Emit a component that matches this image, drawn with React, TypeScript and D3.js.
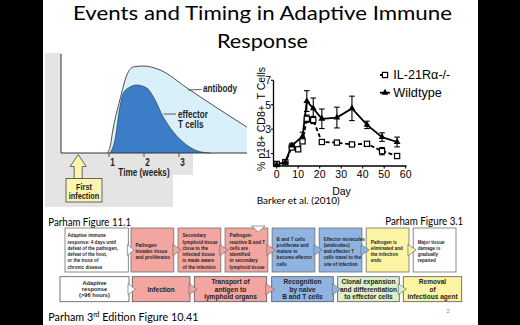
import React from 'react';
import * as d3 from 'd3';

// ---------- DATA ----------
const titleLines = ['Events and Timing in Adaptive Immune', 'Response'];

// Left figure (Parham 11.1): weeks vs relative level
const abWeeks = [0.94, 1.03, 1.11, 1.31, 1.51, 1.69, 1.97, 2.46, 3.23, 4.09, 4.94];
const abLevel = [0, 6, 23, 53, 78, 86, 87, 83, 65, 45, 26];
const efWeeks = [1.03, 1.17, 1.31, 1.41, 1.6, 1.79, 2.08, 2.27, 2.55, 2.84, 3.22, 3.6, 3.89];
const efLevel = [0, 13, 46, 60, 66, 68, 65, 56, 36, 21, 8, 1.3, 0];
const timeTicks = [1, 2, 3];

// Right figure (Barker et al. 2010)
const wtDays = [0, 4, 7, 12, 14, 17, 21, 28, 35, 42, 49, 56];
const wtVals = [0.1, 0.3, 1.65, 2.4, 5.3, 4.7, 3.85, 3.95, 4.7, 3.35, 2.35, 1.95];
const wtErr = [0.05, 0.05, 0.2, 0.35, 0.85, 0.85, 0.8, 0.85, 1.0, 0.3, 0.35, 0.4];
const koDays = [0, 4, 7, 10, 12, 14, 17, 21, 28, 35, 42, 49, 56];
const koVals = [0.15, 0.3, 1.5, 1.35, 2.0, 3.85, 3.75, 1.95, 1.9, 1.75, 1.8, 1.2, 0.8];
const koErr = [0.05, 0.05, 0.1, 0.1, 0.15, 0.3, 0.3, 0.1, 0.1, 0.1, 0.1, 0.3, 0.1];
const rightXTicks = [0, 10, 20, 30, 40, 50, 60];
const rightYTicks = [1, 3, 5, 7];
const legendLabels = ['IL-21R\u03b1-/-', 'Wildtype'];

// Flow diagram (Parham 3.1)
const topSteps = [
  ['Adaptive immune', 'response: 4 days until', 'defeat of the pathogen,', 'defeat of the host,', 'or the truce of', 'chronic disease'],
  ['Pathogen', 'invades tissue', 'and proliferates'],
  ['Secondary', 'lymphoid tissue', 'close to the', 'infected tissue', 'is made aware', 'of the infection'],
  ['Pathogen-', 'reactive B and T', 'cells are', 'identified', 'in secondary', 'lymphoid tissue'],
  ['B and T cells', 'proliferate and', 'mature to', 'become effector', 'cells'],
  ['Effector molecules', '(antibodies)', 'and effector T', 'cells travel to the', 'site of infection'],
  ['Pathogen is', 'eliminated and', 'the infection', 'ends'],
  ['Major tissue', 'damage is', 'gradually', 'repaired'],
];
const topKinds = ['white', 'pink', 'pink', 'pink', 'blue', 'blue', 'yellow', 'white'];
const bottomSteps = [
  ['Adaptive', 'response', '(>96 hours)'],
  ['Infection'],
  ['Transport of', 'antigen to', 'lymphoid organs'],
  ['Recognition', 'by naive', 'B and T cells'],
  ['Clonal expansion', 'and differentiation', 'to effector cells'],
  ['Removal', 'of', 'infectious agent'],
];
const bottomKinds = ['white', 'pink', 'pink', 'blue', 'green', 'yellow'];

// ---------- STYLE ----------
const FILL: Record<string, string> = {
  white: '#ffffff',
  pink: '#f3a59f',
  blue: '#8fb4e2',
  yellow: '#fbf4a2',
  green: '#dcefcb',
};
const ARIAL = "'Liberation Sans', Arial, sans-serif";
const CAL = "Lato, 'Open Sans', sans-serif";

function NText(props: {
  x: number;
  y: number;
  size: number;
  sq?: number;
  anchor?: 'start' | 'middle' | 'end';
  children: React.ReactNode;
}) {
  const { x, y, size, sq = 0.82, anchor = 'start', children } = props;
  return (
    <text
      transform={`translate(${x},${y}) scale(${sq},1)`}
      textAnchor={anchor}
      dominantBaseline="central"
      fontFamily={ARIAL}
      fontWeight="bold"
      fontSize={size}
      fill="#1f1f1f"
    >
      {children}
    </text>
  );
}

export default function App() {
  // Left chart scales
  const xW = d3.scaleLinear().domain([0, 1]).range([74, 109]);
  const yL = d3.scaleLinear().domain([0, 100]).range([153, 53]);
  const abPts: [number, number][] = abWeeks.map((w, i) => [w, abLevel[i]]);
  const efPts: [number, number][] = efWeeks.map((w, i) => [w, efLevel[i]]);
  const area = d3
    .area<[number, number]>()
    .x((d) => xW(d[0]))
    .y0(yL(0))
    .y1((d) => yL(d[1]))
    .curve(d3.curveMonotoneX);
  const line = d3
    .line<[number, number]>()
    .x((d) => xW(d[0]))
    .y((d) => yL(d[1]))
    .curve(d3.curveMonotoneX);

  // Right chart scales
  const xR = d3.scaleLinear().domain([0, 60]).range([276.7, 405.7]);
  const yR = d3.scaleLinear().domain([0, 7]).range([165.8, 80.3]);
  const wtPath = d3
    .line<number>()
    .x((_, i) => xR(wtDays[i]))
    .y((d) => yR(d))(wtVals) as string;
  const koPath = d3
    .line<number>()
    .x((_, i) => xR(koDays[i]))
    .y((d) => yR(d))(koVals) as string;
  const tri = d3.symbol().type(d3.symbolTriangle).size(20)() as string;

  // Flow layout
  const topY0 = 228, topY1 = 272;
  const topBand = d3
    .scaleBand<number>()
    .domain(d3.range(1, 8))
    .range([131, 456])
    .paddingInner(0.09)
    .paddingOuter(0);
  const topX = topSteps.map((_, i) =>
    i === 0 ? [65, 128.3] : [topBand(i)!, topBand(i)! + topBand.bandwidth()]
  );
  const botY0 = 276.7, botY1 = 301.7;
  const botEdges = [60, 129, 132.3, 190, 194.3, 266.7, 271.7, 333.3, 337.7, 399.3, 403.3, 461.7];
  const botX = bottomSteps.map((_, i) => [botEdges[2 * i], botEdges[2 * i + 1]]);

  const chevron = (r: number, l: number, cy: number, fill: string, key: string) => (
    <polygon
      key={key}
      points={`${r - 1},${cy - 5.5} ${l + 3},${cy} ${r - 1},${cy + 5.5}`}
      fill={fill}
      stroke="#6f6f6f"
      strokeWidth={0.7}
    />
  );

  const ax = xW(0.12);

  return (
    <svg
      width={520}
      height={325}
      style={{ position: 'absolute', left: 0, top: 0 }}
      xmlns="http://www.w3.org/2000/svg"
    >
      <rect x={0} y={0} width={520} height={325} fill="#000" />
      <rect x={43} y={0} width={435} height={325} fill="#fff" />

      {/* Title */}
      {titleLines.map((t, i) => (
        <text
          key={t}
          x={262.5}
          y={20 + i * 28}
          textAnchor="middle"
          fontFamily={CAL}
          fontSize={19}
          fill="#000"
          textLength={i === 0 ? 379 : 91}
          lengthAdjust="spacingAndGlyphs"
        >
          {t}
        </text>
      ))}

      {/* ---------- Left figure ---------- */}
      <polygon
        points="45,53 61,53 61,153 193,153 193,175 173,175 173,207 45,207"
        fill="#e4e4e4"
      />
      <path d={area(abPts) as string} fill="#d9f0fa" />
      <path d={line(abPts) as string} fill="none" stroke="#3a3a3a" strokeWidth={0.9} />
      <path d={area(efPts) as string} fill="#3b7ec7" />
      <path d={line(efPts) as string} fill="none" stroke="#2a2a2a" strokeWidth={0.6} />
      <line x1={61} y1={54} x2={61} y2={153} stroke="#333" strokeWidth={1} />
      <line x1={61} y1={153} x2={247} y2={153} stroke="#333" strokeWidth={1} />
      {timeTicks.map((w) => (
        <g key={w}>
          <line x1={xW(w)} y1={153} x2={xW(w)} y2={157} stroke="#333" strokeWidth={0.8} />
          <NText x={xW(w) + 3.5} y={162.5} size={10} anchor="middle">
            {w}
          </NText>
        </g>
      ))}
      <NText x={144} y={172.5} size={10} anchor="middle">
        Time (weeks)
      </NText>
      <line x1={188} y1={90} x2={201.5} y2={89.5} stroke="#333" strokeWidth={0.8} />
      <NText x={203} y={89} size={10}>
        antibody
      </NText>
      <line x1={163.5} y1={114} x2={176} y2={114} stroke="#333" strokeWidth={0.8} />
      <NText x={178} y={114.5} size={10}>
        effector
      </NText>
      <NText x={178} y={125} size={10}>
        T cells
      </NText>
      {/* First infection arrow */}
      <polygon
        points={`${ax},154.5 ${ax + 8},166.5 ${ax + 4},166.5 ${ax + 4},178.5 ${ax - 4},178.5 ${ax - 4},166.5 ${ax - 8},166.5`}
        fill="#fbf5b0"
        stroke="#444"
        strokeWidth={0.8}
      />
      <rect x={66} y={178.5} width={36} height={23.5} fill="#fbf5b0" stroke="#444" strokeWidth={0.8} />
      <NText x={84} y={186.8} size={9} anchor="middle">
        First
      </NText>
      <NText x={84} y={196} size={9} anchor="middle">
        infection
      </NText>

      {/* ---------- Right figure ---------- */}
      <line x1={273.5} y1={yR(7)} x2={273.5} y2={166} stroke="#000" strokeWidth={1.3} />
      <line x1={273} y1={166} x2={406.5} y2={166} stroke="#000" strokeWidth={1.3} />
      {rightYTicks.map((v) => (
        <g key={v}>
          <line x1={271} y1={yR(v)} x2={273.5} y2={yR(v)} stroke="#000" strokeWidth={1.1} />
          <text x={271} y={yR(v)} textAnchor="end" dominantBaseline="central" fontFamily={ARIAL} fontSize={10.5} fill="#000">
            {v}
          </text>
        </g>
      ))}
      {rightXTicks.map((v) => (
        <g key={v}>
          <line x1={xR(v)} y1={166} x2={xR(v)} y2={168.5} stroke="#000" strokeWidth={1.1} />
          <text x={xR(v)} y={174} textAnchor="middle" dominantBaseline="central" fontFamily={ARIAL} fontSize={10.5} fill="#000">
            {v}
          </text>
        </g>
      ))}
      <text x={341.5} y={190.5} textAnchor="middle" dominantBaseline="central" fontFamily={ARIAL} fontSize={10.5} fill="#000">
        Day
      </text>
      <text
        transform="translate(261,119) rotate(-90)"
        textAnchor="middle"
        dominantBaseline="central"
        fontFamily={ARIAL}
        fontSize={10.5}
        fill="#000"
        style={{ whiteSpace: 'pre' }}
      >
        {'% p18+ CD8+  T Cells'}
      </text>
      {/* error bars */}
      {wtDays.map((d, i) => (
        <g key={'we' + i} stroke="#000" strokeWidth={1.1}>
          <line x1={xR(d)} x2={xR(d)} y1={yR(wtVals[i] - wtErr[i])} y2={yR(wtVals[i] + wtErr[i])} />
          <line x1={xR(d) - 2.8} x2={xR(d) + 2.8} y1={yR(wtVals[i] + wtErr[i])} y2={yR(wtVals[i] + wtErr[i])} />
          <line x1={xR(d) - 2.8} x2={xR(d) + 2.8} y1={yR(wtVals[i] - wtErr[i])} y2={yR(wtVals[i] - wtErr[i])} />
        </g>
      ))}
      {koDays.map((d, i) => (
        <g key={'ke' + i} stroke="#000" strokeWidth={1.1}>
          <line x1={xR(d)} x2={xR(d)} y1={yR(koVals[i] - koErr[i])} y2={yR(koVals[i] + koErr[i])} />
          <line x1={xR(d) - 2.8} x2={xR(d) + 2.8} y1={yR(koVals[i] + koErr[i])} y2={yR(koVals[i] + koErr[i])} />
          <line x1={xR(d) - 2.8} x2={xR(d) + 2.8} y1={yR(koVals[i] - koErr[i])} y2={yR(koVals[i] - koErr[i])} />
        </g>
      ))}
      <path d={koPath} fill="none" stroke="#000" strokeWidth={1.8} strokeDasharray="4,2.5" />
      <path d={wtPath} fill="none" stroke="#000" strokeWidth={1.8} />
      {koDays.map((d, i) => (
        <rect key={'km' + i} x={xR(d) - 2.6} y={yR(koVals[i]) - 2.6} width={5.2} height={5.2} fill="#fff" stroke="#000" strokeWidth={1.2} />
      ))}
      {wtDays.map((d, i) => (
        <path key={'wm' + i} d={tri} transform={`translate(${xR(d)},${yR(wtVals[i])})`} fill="#000" />
      ))}
      {/* legend */}
      <line x1={380} y1={75} x2={390} y2={75} stroke="#000" strokeWidth={1.8} strokeDasharray="3,2" />
      <rect x={382.4} y={72.4} width={5.2} height={5.2} fill="#fff" stroke="#000" strokeWidth={1.2} />
      <text x={393.3} y={75} dominantBaseline="central" fontFamily={ARIAL} fontSize={12} fill="#000" textLength={57} lengthAdjust="spacingAndGlyphs">
        {legendLabels[0]}
      </text>
      <line x1={380} y1={92.7} x2={390} y2={92.7} stroke="#000" strokeWidth={1.8} />
      <path d={tri} transform="translate(385,92.7)" fill="#000" />
      <text x={393.3} y={92.7} dominantBaseline="central" fontFamily={ARIAL} fontSize={12} fill="#000" textLength={48.5} lengthAdjust="spacingAndGlyphs">
        {legendLabels[1]}
      </text>
      <text x={256.7} y={200.5} dominantBaseline="central" fontFamily={CAL} fontSize={8.8} fill="#000" textLength={83} lengthAdjust="spacingAndGlyphs">
        Barker et al. (2010)
      </text>

      {/* ---------- Captions ---------- */}
      <text x={48.3} y={221.7} dominantBaseline="central" fontFamily={CAL} fontSize={11} fill="#000" textLength={82.7} lengthAdjust="spacingAndGlyphs">
        Parham Figure 11.1
      </text>
      <text x={463.3} y={220.5} textAnchor="end" dominantBaseline="central" fontFamily={CAL} fontSize={11} fill="#000" textLength={78} lengthAdjust="spacingAndGlyphs">
        Parham Figure 3.1
      </text>
      <text x={48.3} y={320.5} fontFamily={CAL} fontSize={10.8} fill="#000">
        Parham 3<tspan fontSize={7} dy={-4}>rd</tspan>
        <tspan dy={4}> Edition Figure 10.41</tspan>
      </text>
      <text x={448} y={310} textAnchor="middle" dominantBaseline="central" fontFamily={CAL} fontSize={6} fill="#888">
        2
      </text>

      {/* ---------- Flow top row ---------- */}
      {topSteps.map((lines, i) => {
        const [x0, x1] = topX[i];
        const cy = 251.4;
        const lh = 6.25;
        return (
          <g key={'t' + i}>
            <rect x={x0} y={topY0} width={x1 - x0} height={topY1 - topY0} fill={FILL[topKinds[i]]} stroke="#6f6f6f" strokeWidth={0.8} />
            {lines.map((ln, j) => (
              <NText key={j} x={x0 + (i === 0 ? 2.5 : 4.5)} y={cy + (j - (lines.length - 1) / 2) * lh} size={5.3} sq={0.87}>
                {ln}
              </NText>
            ))}
          </g>
        );
      })}
      {topX.slice(0, -1).map((b, i) => chevron(b[1], topX[i + 1][0], 250, FILL[topKinds[i]], 'tc' + i))}
      <polygon points="251.5,226 265,226 258.3,232" fill="#fff" stroke="#6f6f6f" strokeWidth={0.7} />

      {/* ---------- Flow bottom row ---------- */}
      {bottomSteps.map((lines, i) => {
        const [x0, x1] = botX[i];
        const cy = (botY0 + botY1) / 2;
        const lh = i === 0 ? 5.9 : 7.5;
        return (
          <g key={'b' + i}>
            <rect x={x0} y={botY0} width={x1 - x0} height={botY1 - botY0} fill={FILL[bottomKinds[i]]} stroke="#555" strokeWidth={0.8} />
            {lines.map((ln, j) => (
              <NText
                key={j}
                x={(x0 + x1) / 2}
                y={cy + (j - (lines.length - 1) / 2) * lh}
                size={i === 0 ? 5.6 : 7.2}
                sq={i === 0 ? 1.02 : 0.91}
                anchor="middle"
              >
                {ln}
              </NText>
            ))}
          </g>
        );
      })}
      {botX.slice(0, -1).map((b, i) => chevron(b[1], botX[i + 1][0], 289.2, FILL[bottomKinds[i]], 'bc' + i))}
    </svg>
  );
}
